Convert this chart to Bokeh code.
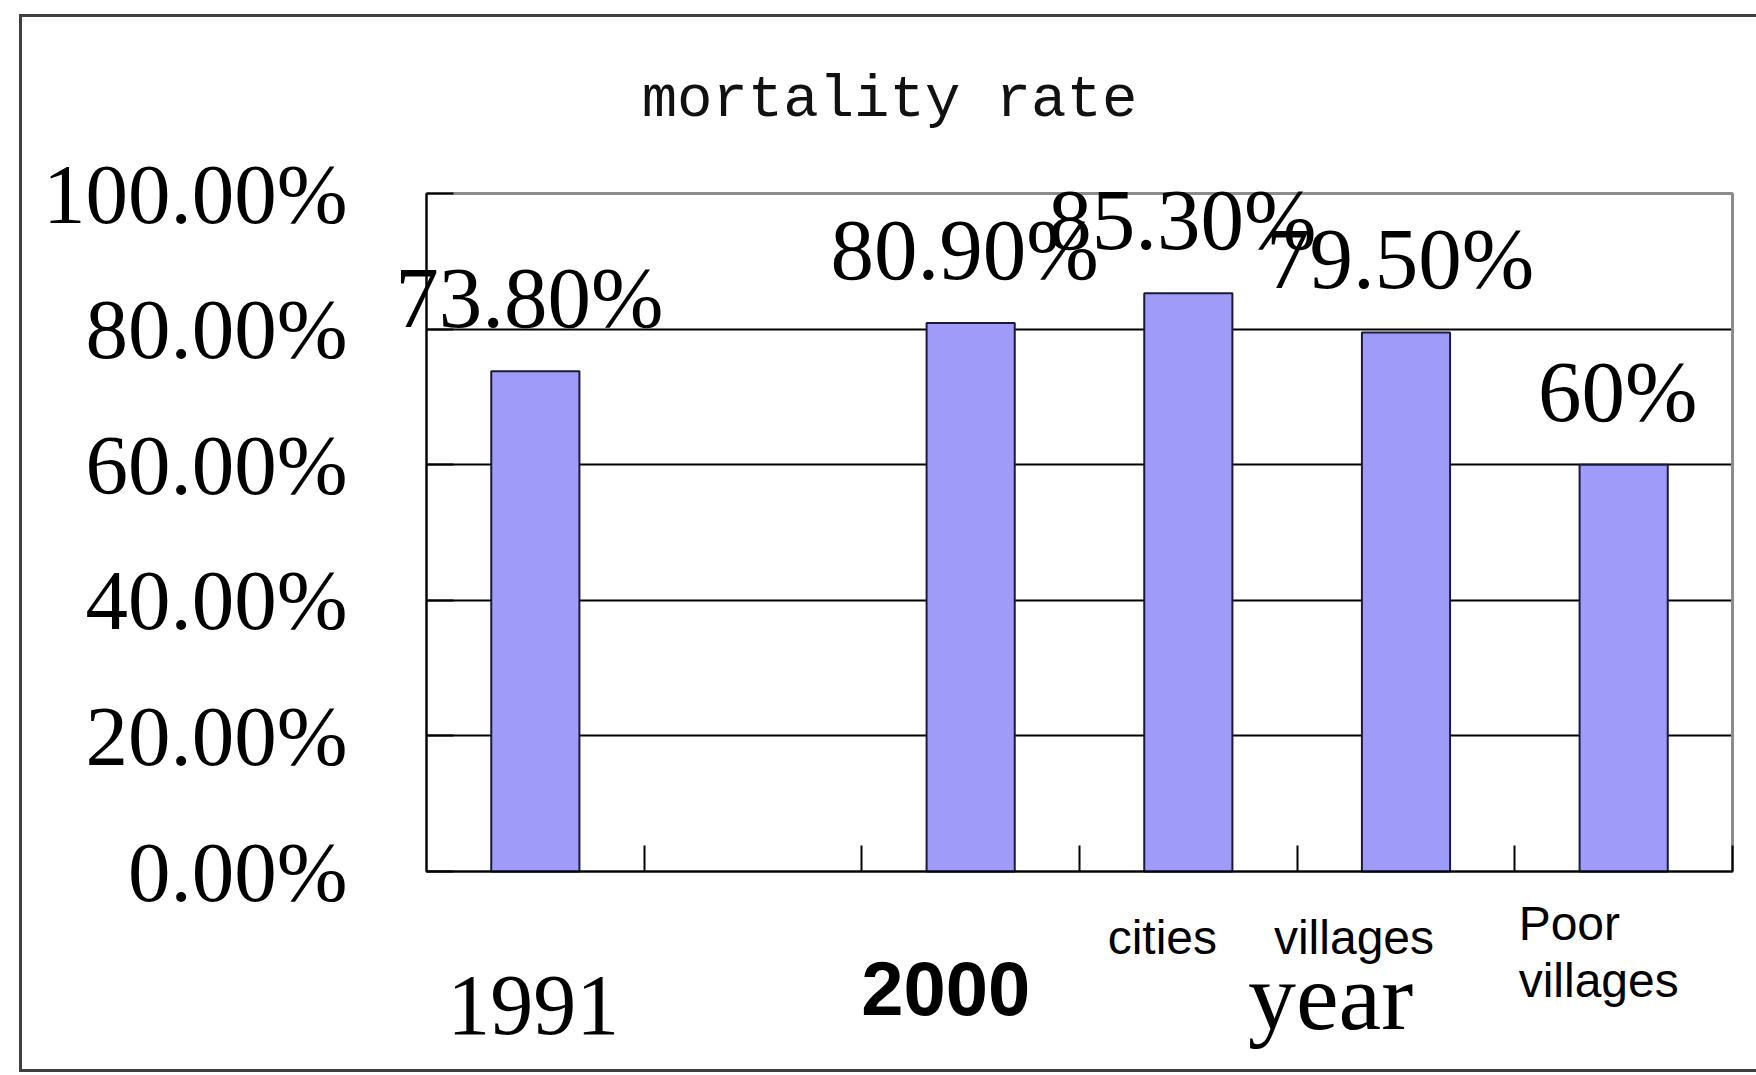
from bokeh.plotting import figure
from bokeh.models import (Range1d, FixedTicker, ColumnDataSource, LabelSet,
                          BoxAnnotation, LinearAxis)
from bokeh.core.properties import value
from bokeh.embed import file_html
from bokeh.resources import INLINE

# ---- data ----
categories = ["1991", "", "2000", "cities", "villages", "Poor\nvillages"]
rates = [73.8, None, 80.9, 85.3, 79.5, 60.0]
rate_labels = ["73.80%", "", "80.90%", "85.30%", "79.50%", "60%"]
y_ticks = [0, 20, 40, 60, 80, 100]
y_tick_labels = ["0.00%", "20.00%", "40.00%", "60.00%", "80.00%", "100.00%"]
title_text = "mortality rate"
x_title = "year"

# ---- layout (canvas pixels) ----
W, H = 1756, 1075
PL, PR, PT, PB = 426, 1732, 193, 871      # inner plot rectangle
n = len(categories)
ymax = y_ticks[-1]
xpx = (PR - PL) / n
ypx = (PB - PT) / ymax
x_range = Range1d(-PL / xpx, n + (W - PR) / xpx)
y_range = Range1d(-(H - PB) / ypx, ymax + PT / ypx)

xs = [i + 0.5 for i in range(n)]
bar_idx = [i for i in range(n) if rates[i] is not None]
src = ColumnDataSource(dict(
    x=[xs[i] for i in bar_idx],
    top=[rates[i] for i in bar_idx],
    lab=[rate_labels[i] for i in bar_idx],
))

p = figure(width=W, height=H, output_backend="svg", toolbar_location=None,
           x_range=x_range, y_range=y_range, title=None,
           x_axis_location=None, y_axis_location=None,
           min_border_left=0, min_border_right=0, min_border_top=0,
           min_border_bottom=0)
p.background_fill_color = "white"
p.border_fill_color = "white"
p.outline_line_color = None

# inner plot area border (top/right visible in grey)
p.add_layout(BoxAnnotation(left=0, right=n, bottom=0, top=ymax,
                           fill_alpha=0, line_color="#8c8c8c", line_alpha=1,
                           line_width=3, level="underlay"))

# grid
p.xgrid.visible = False
p.ygrid.ticker = FixedTicker(ticks=y_ticks[1:-1])
p.ygrid.grid_line_color = "black"
p.ygrid.grid_line_width = 2
p.ygrid.cross_bounds = (0, n)

# y axis
ya = LinearAxis(fixed_location=0, bounds=(0, ymax))
ya.ticker = FixedTicker(ticks=y_ticks)
ya.major_label_overrides = {t: l for t, l in zip(y_ticks, y_tick_labels)}
ya.major_label_text_font = "Liberation Serif"
ya.major_label_text_font_size = "85px"
ya.major_label_text_color = "black"
ya.major_label_standoff = 79
ya.major_tick_in = 27
ya.major_tick_out = 0
ya.major_tick_line_width = 2
ya.major_tick_line_color = "black"
ya.minor_tick_line_color = None
ya.axis_line_color = "black"
ya.axis_line_width = 2
p.add_layout(ya, "left")

# x axis (ticks at category boundaries, no tick labels)
x_bounds = list(range(1, n + 1))
xa = LinearAxis(fixed_location=0, bounds=(0, n))
xa.ticker = FixedTicker(ticks=x_bounds)
xa.major_label_overrides = {t: "" for t in x_bounds}
xa.major_tick_in = 26
xa.major_tick_out = 0
xa.major_tick_line_width = 2
xa.major_tick_line_color = "black"
xa.minor_tick_line_color = None
xa.axis_line_color = "black"
xa.axis_line_width = 2
p.add_layout(xa, "below")

# bars
p.vbar(x="x", top="top", width=0.405, bottom=0, source=src,
       fill_color="#9f9cf9", line_color="#1a1a40", line_width=2)

# value labels
p.add_layout(LabelSet(x="x", y="top", text="lab", source=src,
                      x_offset=-6, y_offset=44,
                      text_align="center", text_baseline="alphabetic",
                      text_font=value("Liberation Serif"),
                      text_font_size=value("87px"), text_color="black"))

# category labels with the styles of the reference
cat_style = {
    "1991": dict(font="Liberation Serif", size="86px", style="normal", dx=-2, dy=-162, align="center"),
    "2000": dict(font="Liberation Sans", size="76px", style="bold", dx=-25, dy=-143, align="center"),
    "cities": dict(font="Liberation Sans", size="48px", style="normal", dx=-26, dy=-82, align="center"),
    "villages": dict(font="Liberation Sans", size="48px", style="normal", dx=-52, dy=-82, align="center"),
    "Poor\nvillages": dict(font="Liberation Sans", size="48px", style="normal", dx=-105, dy=-68, align="left"),
}
rows = dict(x=[], text=[], font=[], size=[], style=[], dx=[], dy=[], align=[])
for i, name in enumerate(categories):
    if name not in cat_style:
        continue
    s = cat_style[name]
    for k, line in enumerate(name.split("\n")):
        rows["x"].append(xs[i])
        rows["text"].append(line)
        rows["font"].append(s["font"])
        rows["size"].append(s["size"])
        rows["style"].append(s["style"])
        rows["dx"].append(s["dx"])
        rows["dy"].append(s["dy"] - 57 * k)
        rows["align"].append(s["align"])
cat_src = ColumnDataSource(dict(rows, y=[0] * len(rows["x"])))
p.add_layout(LabelSet(x="x", y="y", text="text", source=cat_src,
                      x_offset="dx", y_offset="dy", text_align="align",
                      text_baseline="alphabetic", text_font="font",
                      text_font_size="size", text_font_style="style",
                      text_color="black"))

# axis title "year"
p.add_layout(LabelSet(x="x", y="y", text="t", x_units="screen", y_units="screen",
                      source=ColumnDataSource(dict(x=[1330], y=[H - 1028], t=[x_title])),
                      text_align="center", text_baseline="alphabetic",
                      text_font=value("Liberation Serif"), text_font_size=value("96px"),
                      text_color="black"))

# chart title
p.add_layout(LabelSet(x="x", y="y", text="t", x_units="screen", y_units="screen",
                      source=ColumnDataSource(dict(x=[889], y=[H - 115], t=[title_text])),
                      text_align="center", text_baseline="alphabetic",
                      text_font=value("Liberation Mono"), text_font_size=value("59px"),
                      text_color="#111111"))

# outer frame of the picture (open on the right)
frame_kw = dict(left_units="screen", right_units="screen", top_units="screen",
                bottom_units="screen", fill_color="#404040", fill_alpha=1,
                line_color=None, level="overlay")
p.add_layout(BoxAnnotation(left=18.5, right=W, top=H - 13.5, bottom=H - 16.5, **frame_kw))
p.add_layout(BoxAnnotation(left=18.5, right=21.5, top=H - 13.5, bottom=H - 1071.5, **frame_kw))
p.add_layout(BoxAnnotation(left=18.5, right=W, top=H - 1068.5, bottom=H - 1071.5, **frame_kw))

open("out.html", "w").write(file_html(p, INLINE))
